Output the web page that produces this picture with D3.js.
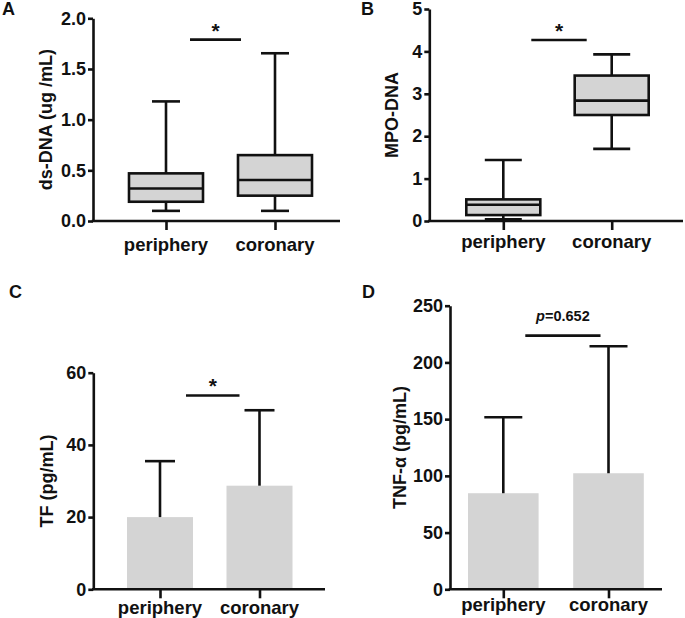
<!DOCTYPE html>
<html>
<head>
<meta charset="utf-8">
<script src="https://cdn.jsdelivr.net/npm/d3@7"></script>
<style>
  body { margin: 0; background: #fff; }
  text { font-family: 'Liberation Sans', Arial, sans-serif; font-weight: bold; fill: #111; }
</style>
</head>
<body>
<svg id="chart"></svg>
<script>
/* global d3 */

const categories = ['periphery', 'coronary']

// A: ds-DNA box plots
const dsDnaMin = [0.10, 0.10]
const dsDnaQ1 = [0.19, 0.25]
const dsDnaMedian = [0.32, 0.405]
const dsDnaQ3 = [0.47, 0.65]
const dsDnaMax = [1.18, 1.655]
const dsDnaTicks = [0, 0.5, 1.0, 1.5, 2.0]

// B: MPO-DNA box plots
const mpoMin = [0.04, 1.70]
const mpoQ1 = [0.14, 2.50]
const mpoMedian = [0.385, 2.84]
const mpoQ3 = [0.51, 3.43]
const mpoMax = [1.44, 3.93]
const mpoTicks = [0, 1, 2, 3, 4, 5]

// C: TF mean + upper error
const tfMean = [20.0, 28.7]
const tfUpper = [35.5, 49.6]
const tfTicks = [0, 20, 40, 60]

// D: TNF-a mean + upper error
const tnfMean = [84.7, 102.3]
const tnfUpper = [151.7, 214.3]
const tnfTicks = [0, 50, 100, 150, 200, 250]

// significance bars (value level + label)
const sigLevels = [1.79, 4.27, 53.7, 223.6]
const sigLabels = ['*', '*', '*', 'p=0.652']

const width = 685
const height = 618
const stroke = 2.6
const grey = '#d4d4d4'

const svg = d3.select('#chart')
  .attr('width', width)
  .attr('height', height)

const panels = [
  { letter: 'A', lx: 2, ly: 15, left: 93, right: 340, top: 18.3, bottom: 221, pts: [166, 275],
    ticks: dsDnaTicks, fmt: d3.format('.1f'), title: 'ds-DNA (ug /mL)', titleX: 46, catY: 251,
    kind: 'box', data: [dsDnaMin, dsDnaQ1, dsDnaMedian, dsDnaQ3, dsDnaMax], boxW: 74, capW: 28,
    sig: [24, -34] },
  { letter: 'B', lx: 361, ly: 15, left: 429.3, right: 683, top: 9, bottom: 221, pts: [503.3, 611.7],
    ticks: mpoTicks, fmt: d3.format('d'), title: 'MPO-DNA', titleX: 392, catY: 248,
    kind: 'box', data: [mpoMin, mpoQ1, mpoMedian, mpoQ3, mpoMax], boxW: 74, capW: 37,
    sig: [28, -25] },
  { letter: 'C', lx: 9, ly: 298, left: 93.3, right: 325, top: 372.7, bottom: 589.3, pts: [160, 259.5],
    ticks: tfTicks, fmt: d3.format('d'), title: 'TF (pg/mL)', titleX: 47, catY: 614,
    kind: 'bar', data: [tfMean, tfUpper], boxW: 66, capW: 30,
    sig: [26, -20] },
  { letter: 'D', lx: 362, ly: 298, left: 450, right: 662, top: 305.7, bottom: 589.3, pts: [503.3, 608.5],
    ticks: tnfTicks, fmt: d3.format('d'), title: 'TNF-\u03b1 (pg/mL)', titleX: 400, catY: 611,
    kind: 'bar', data: [tnfMean, tnfUpper], boxW: 70.6, capW: 38,
    sig: [22, -8] }
]

const line = (g, x1, y1, x2, y2) => g.append('line')
  .attr('x1', x1).attr('y1', y1).attr('x2', x2).attr('y2', y2)
  .attr('stroke', '#111').attr('stroke-width', stroke)

panels.forEach((p, i) => {
  const g = svg.append('g').attr('id', 'panel' + p.letter)

  const y = d3.scaleLinear()
    .domain([0, d3.max(p.ticks)])
    .range([p.bottom, p.top])
  const x = d3.scalePoint()
    .domain(categories)
    .range(p.pts)

  // marks
  if (p.kind === 'box') {
    const [mins, q1s, meds, q3s, maxs] = p.data
    categories.forEach((c, j) => {
      const cx = x(c)
      line(g, cx, y(q3s[j]), cx, y(maxs[j]))
      line(g, cx, y(q1s[j]), cx, y(mins[j]))
      line(g, cx - p.capW / 2, y(maxs[j]), cx + p.capW / 2, y(maxs[j]))
      line(g, cx - p.capW / 2, y(mins[j]), cx + p.capW / 2, y(mins[j]))
      g.append('rect')
        .attr('x', cx - p.boxW / 2)
        .attr('y', y(q3s[j]))
        .attr('width', p.boxW)
        .attr('height', y(q1s[j]) - y(q3s[j]))
        .attr('fill', grey)
        .attr('stroke', '#111')
        .attr('stroke-width', stroke)
      line(g, cx - p.boxW / 2, y(meds[j]), cx + p.boxW / 2, y(meds[j]))
    })
  } else {
    const [means, uppers] = p.data
    g.selectAll('rect.bar')
      .data(categories)
      .enter()
      .append('rect')
      .attr('class', 'bar')
      .attr('x', c => x(c) - p.boxW / 2)
      .attr('y', (c, j) => y(means[j]))
      .attr('width', p.boxW)
      .attr('height', (c, j) => y(0) - y(means[j]))
      .attr('fill', grey)
    categories.forEach((c, j) => {
      const cx = x(c)
      line(g, cx, y(means[j]), cx, y(uppers[j]))
      line(g, cx - p.capW / 2, y(uppers[j]), cx + p.capW / 2, y(uppers[j]))
    })
  }

  // y axis
  const yAxis = g.append('g')
    .attr('transform', `translate(${p.left},0)`)
    .call(d3.axisLeft(y).tickValues(p.ticks).tickFormat(p.fmt).tickSize(5).tickSizeOuter(0).tickPadding(2))
  yAxis.attr('font-family', null).attr('font-size', null)
  yAxis.selectAll('path, line').attr('stroke', '#111').attr('stroke-width', stroke)
  yAxis.selectAll('text')
    .attr('font-size', 18)
    .attr('font-weight', 'bold')
    .style('font-weight', 'bold')

  // x axis
  line(g, p.left - stroke / 2, p.bottom, p.right, p.bottom)
  const xAxis = g.append('g')
    .attr('transform', `translate(0,${p.bottom})`)
    .call(d3.axisBottom(x).tickSize(9).tickFormat(''))
  xAxis.select('.domain').remove()
  xAxis.selectAll('line').attr('stroke', '#111').attr('stroke-width', stroke)

  g.selectAll('text.cat')
    .data(categories)
    .enter()
    .append('text')
    .attr('class', 'cat')
    .attr('x', c => x(c))
    .attr('y', p.catY)
    .attr('text-anchor', 'middle')
    .attr('font-size', 18.5)
    .text(c => c)

  // y title
  g.append('text')
    .attr('transform', `translate(${p.titleX},${(p.top + p.bottom) / 2}) rotate(-90)`)
    .attr('text-anchor', 'middle')
    .attr('dy', '0.35em')
    .attr('font-size', 18)
    .text(p.title)

  // panel letter
  g.append('text')
    .attr('x', p.lx)
    .attr('y', p.ly)
    .attr('font-size', 18)
    .text(p.letter)

  // significance
  const sy = y(sigLevels[i])
  const sx1 = p.pts[0] + p.sig[0]
  const sx2 = p.pts[1] + p.sig[1]
  line(g, sx1, sy, sx2, sy)
  const label = sigLabels[i]
  if (label === '*') {
    g.append('text')
      .attr('x', (sx1 + sx2) / 2)
      .attr('y', sy - 2)
      .attr('text-anchor', 'middle')
      .attr('font-size', 21)
      .text('*')
  } else {
    const t = g.append('text')
      .attr('x', (sx1 + sx2) / 2)
      .attr('y', sy - 15)
      .attr('text-anchor', 'middle')
      .attr('font-size', 14.5)
    t.append('tspan').attr('font-style', 'italic').text(label.slice(0, 1))
    t.append('tspan').text(label.slice(1))
  }
})
</script>
</body>
</html>
